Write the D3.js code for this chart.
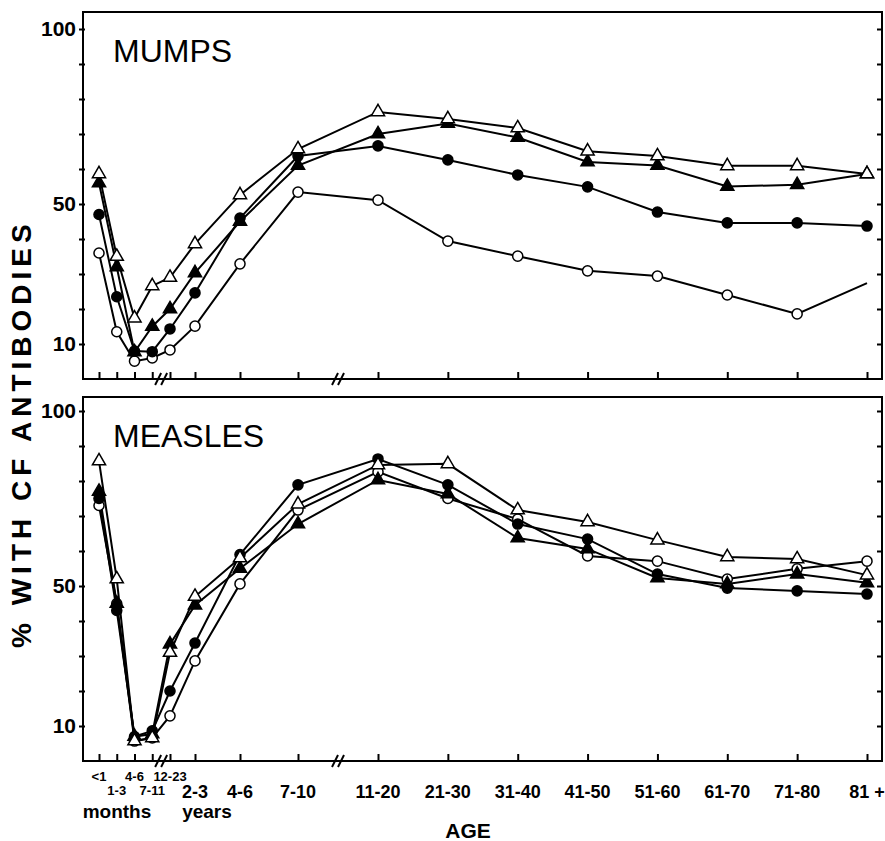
<!DOCTYPE html>
<html>
<head>
<meta charset="utf-8">
<script src="https://cdn.jsdelivr.net/npm/d3@7"></script>
<style>
  body { margin: 0; background: #fff; }
  svg { font-family: "Liberation Sans", Arial, sans-serif; }
</style>
</head>
<body>
<div id="chart"></div>
<script>
// age groups along the x axis (months first, then years)
const ageLabels = ["<1", "1-3", "4-6", "7-11", "12-23", "2-3", "4-6", "7-10",
  "11-20", "21-30", "31-40", "41-50", "51-60", "61-70", "71-80", "81 +"];

// MUMPS, % with CF antibodies
const mumpsOpenTri  = [58.6, 35, 17.4, 26.6, 29, 38.6, 52.6, 65.7, 76.3, 74.3, 71.7, 65.1, 63.7, 60.9, 60.9, 58.6];
const mumpsFillTri  = [56, 32, 7.7, 15, 20, 30.3, 45, 61, 70, 73, 69, 62, 61, 55, 55.5, 58.6];
const mumpsFillCirc = [47, 23.5, 8, 7.8, 14.3, 24.6, 46, 63.7, 66.6, 62.6, 58.3, 54.9, 47.7, 44.6, 44.6, 43.7];
const mumpsOpenCirc = [36, 13.5, 5.1, 6, 8.3, 15.1, 32.9, 53.4, 51.1, 39.4, 35.1, 30.9, 29.4, 24, 18.6, 27.4];

// MEASLES, % with CF antibodies
const measlesOpenTri  = [85.7, 52, 5.7, 6.6, 31, 47, 58, 73.4, 84.6, 84.9, 71.7, 68.3, 63.1, 58.3, 57.7, 53.1];
const measlesFillTri  = [77, 45, 7, 7.7, 33.4, 44.5, 55, 67.7, 80.3, 76.3, 63.7, 60.6, 52.3, 50.6, 53.4, 50.9];
const measlesFillCirc = [75, 43, 7, 8.6, 20, 33.7, 59, 78.9, 86.3, 78.9, 67.7, 63.4, 53.4, 49.4, 48.6, 47.7];
const measlesOpenCirc = [73, 45, 5.7, 6.6, 12.9, 28.6, 50.6, 71.7, 82.6, 75, 69.1, 58.6, 57.1, 52, 54.9, 57.1];

const yTicks = [10, 20, 30, 40, 50, 60, 70, 80, 90, 100];
const yLabelled = [10, 50, 100];

const width = 885;
const height = 841;
const left = 83, right = 882;

const svg = d3.select("#chart").append("svg").attr("width", width).attr("height", height);

// the age axis is broken twice, so it is piecewise linear over the group index
const x = d3.scaleLinear()
  .domain([0, 4, 5, 6, 7, 8, 15])
  .range([99, 170, 195, 240, 298, 378, 867]);

const panels = [
  { title: "MUMPS", top: 12, bottom: 379,
    series: [
      { values: mumpsOpenCirc, shape: "circle", fill: "#fff", last: false },
      { values: mumpsFillCirc, shape: "circle", fill: "#000", last: true },
      { values: mumpsFillTri, shape: "triangle", fill: "#000", last: true },
      { values: mumpsOpenTri, shape: "triangle", fill: "#fff", last: true }
    ] },
  { title: "MEASLES", top: 397, bottom: 761,
    series: [
      { values: measlesOpenCirc, shape: "circle", fill: "#fff", last: true },
      { values: measlesFillCirc, shape: "circle", fill: "#000", last: true },
      { values: measlesFillTri, shape: "triangle", fill: "#000", last: true },
      { values: measlesOpenTri, shape: "triangle", fill: "#fff", last: true }
    ] }
];

const circle = d3.symbol().type(d3.symbolCircle).size(80);
const triangle = d3.symbol().type(d3.symbolTriangle).size(75);

panels.forEach(p => {
  const y = d3.scaleLinear().domain([0, 100]).range([p.bottom, p.bottom - 350]);
  const g = svg.append("g");

  g.append("rect")
    .attr("x", left).attr("y", p.top)
    .attr("width", right - left).attr("height", p.bottom - p.top)
    .attr("fill", "none").attr("stroke", "#000").attr("stroke-width", 2);

  // left ticks + labels
  const yAxis = d3.axisLeft(y).tickValues(yTicks).tickSize(6)
    .tickFormat(d => yLabelled.includes(d) ? d : "");
  g.append("g").attr("transform", `translate(${left + 2},0)`).call(yAxis)
    .attr("font-size", 21).attr("font-weight", "bold")
    .attr("font-family", "Liberation Sans, Arial, sans-serif")
    .call(a => a.select(".domain").remove())
    .call(a => a.selectAll("line").attr("stroke-width", 2))
    .call(a => a.selectAll("text").attr("x", -9));

  // right ticks, pointing inward
  g.append("g").attr("transform", `translate(${right},0)`)
    .call(d3.axisRight(y).tickValues(yTicks).tickSize(-5).tickFormat(""))
    .call(a => a.select(".domain").remove())
    .call(a => a.selectAll("line").attr("stroke-width", 2));

  // bottom ticks, pointing up
  g.append("g").attr("transform", `translate(0,${p.bottom})`)
    .call(d3.axisBottom(x).tickValues(d3.range(ageLabels.length)).tickSize(-7).tickFormat(""))
    .call(a => a.select(".domain").remove())
    .call(a => a.selectAll("line").attr("stroke-width", 2));

  // axis breaks
  [3.5, 7.5].forEach(b => {
    [-3, 3].forEach(off => {
      g.append("line")
        .attr("x1", x(b) + off - 3).attr("y1", p.bottom + 6)
        .attr("x2", x(b) + off + 3).attr("y2", p.bottom - 6)
        .attr("stroke", "#000").attr("stroke-width", 2);
    });
  });

  g.append("text").attr("x", 113).attr("y", p.top + 50)
    .attr("font-size", 32).text(p.title);

  const line = d3.line().x((d, i) => x(i)).y(d => y(d));

  p.series.forEach(s => {
    g.append("path").datum(s.values)
      .attr("d", line).attr("fill", "none")
      .attr("stroke", "#000").attr("stroke-width", 2);
  });

  p.series.forEach(s => {
    const pts = s.last ? s.values : s.values.slice(0, -1);
    g.selectAll(null).data(pts).enter().append("path")
      .attr("transform", (d, i) => `translate(${x(i)},${y(d)})`)
      .attr("d", s.shape === "circle" ? circle : triangle)
      .attr("fill", s.fill).attr("stroke", "#000").attr("stroke-width", 1.5);
  });
});

// age labels
const small = [0, 1, 2, 3, 4];
svg.selectAll(".agesmall").data(small).enter().append("text")
  .attr("x", i => x(i)).attr("y", i => i % 2 === 0 ? 781 : 795)
  .attr("text-anchor", "middle").attr("font-size", 13).attr("font-weight", "bold")
  .text(i => ageLabels[i]);

svg.selectAll(".agebig").data(d3.range(5, ageLabels.length)).enter().append("text")
  .attr("x", i => x(i)).attr("y", 798)
  .attr("text-anchor", "middle").attr("font-size", 18).attr("font-weight", "bold")
  .text(i => ageLabels[i]);

svg.append("text").attr("x", 117).attr("y", 818).attr("text-anchor", "middle")
  .attr("font-size", 19).attr("font-weight", "bold").text("months");
svg.append("text").attr("x", 207).attr("y", 818).attr("text-anchor", "middle")
  .attr("font-size", 19).attr("font-weight", "bold").text("years");
svg.append("text").attr("x", 468).attr("y", 838).attr("text-anchor", "middle")
  .attr("font-size", 21).attr("font-weight", "bold").text("AGE");

svg.append("text")
  .attr("transform", "translate(31,648) rotate(-90)")
  .attr("font-size", 28).attr("font-weight", "bold")
  .attr("letter-spacing", 5)
  .text("% WITH CF ANTIBODIES");
</script>
</body>
</html>
